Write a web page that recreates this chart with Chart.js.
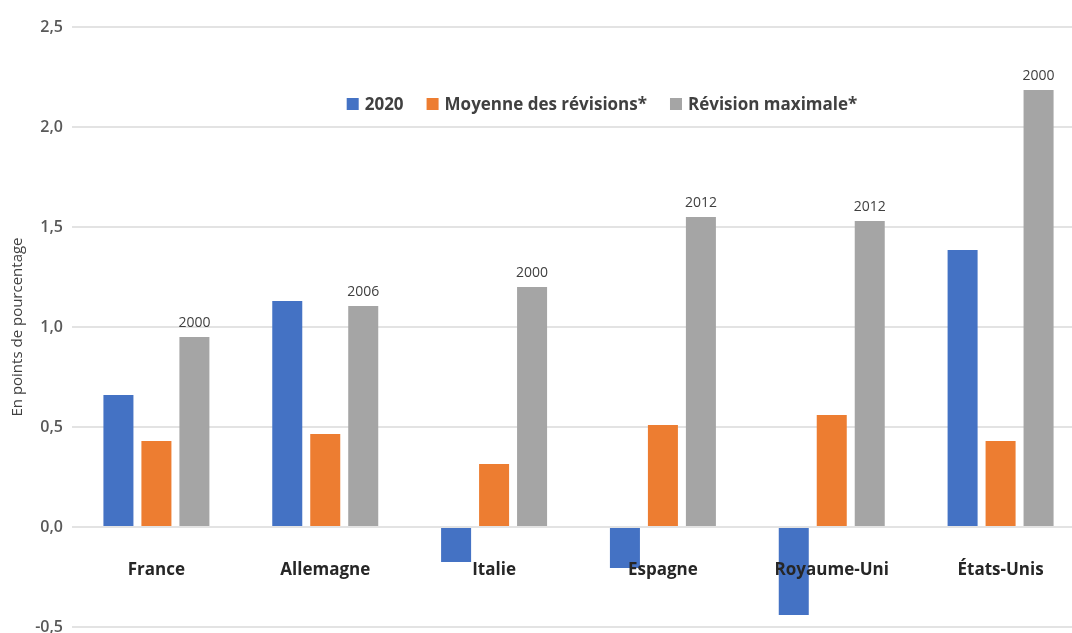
<!DOCTYPE html>
<html>
<head>
<meta charset="utf-8">
<script src="https://cdn.jsdelivr.net/npm/chart.js@4"></script>
<style>
  html, body { margin: 0; padding: 0; background: #fff; overflow: hidden; }
  #wrap { width: 1085px; height: 633px; }
</style>
</head>
<body>
<div id="wrap"><canvas id="revChart"></canvas></div>
<script>
const countries = ['France', 'Allemagne', 'Italie', 'Espagne', 'Royaume-Uni', 'États-Unis'];
const rev2020 = [0.66, 1.13, -0.175, -0.205, -0.44, 1.385];
const revMoyenne = [0.43, 0.465, 0.315, 0.51, 0.56, 0.43];
const revMax = [0.95, 1.105, 1.2, 1.55, 1.53, 2.185];
const revMaxYears = ['2000', '2006', '2000', '2012', '2012', '2000'];

const FONT = '"Open Sans", "Liberation Sans", sans-serif';
const TXT = '#404040';

// libellés des années au-dessus des barres grises
const yearLabels = {
  id: 'yearLabels',
  afterDatasetsDraw(chart) {
    const ctx = chart.ctx;
    const meta = chart.getDatasetMeta(2);
    ctx.save();
    ctx.font = '14px ' + FONT;
    ctx.fillStyle = TXT;
    ctx.textAlign = 'center';
    ctx.textBaseline = 'bottom';
    meta.data.forEach((bar, i) => {
      ctx.fillText(revMaxYears[i], bar.x, bar.y - 7);
    });
    ctx.restore();
  }
};

// légende dessinée dans la zone du graphique
const innerLegend = {
  id: 'innerLegend',
  afterDraw(chart) {
    const ctx = chart.ctx;
    const ds = chart.data.datasets;
    const box = 12, gapText = 6, gapItem = 23;
    ctx.save();
    ctx.font = '700 17px ' + FONT;
    const widths = ds.map(d => box + gapText + ctx.measureText(d.label).width);
    const total = widths.reduce((a, b) => a + b, 0) + gapItem * (ds.length - 1);
    let x = 602 - total / 2;
    const y = 104;
    ds.forEach((d, i) => {
      ctx.fillStyle = d.backgroundColor;
      ctx.fillRect(x, y - box / 2, box, box);
      ctx.fillStyle = TXT;
      ctx.textAlign = 'left';
      ctx.textBaseline = 'middle';
      ctx.fillText(d.label, x + box + gapText, y + 1);
      x += widths[i] + gapItem;
    });
    ctx.restore();
  }
};

new Chart(document.getElementById('revChart'), {
  type: 'bar',
  data: {
    labels: countries,
    datasets: [
      { label: '2020', data: rev2020, backgroundColor: '#4472C4' },
      { label: 'Moyenne des révisions*', data: revMoyenne, backgroundColor: '#ED7D31' },
      { label: 'Révision maximale*', data: revMax, backgroundColor: '#A5A5A5' }
    ]
  },
  options: {
    responsive: true,
    maintainAspectRatio: false,
    animation: false,
    layout: { padding: { top: 27, right: 0, bottom: 6, left: 0 } },
    datasets: { bar: { categoryPercentage: 0.675, barPercentage: 0.79 } },
    plugins: {
      legend: { display: false },
      tooltip: { enabled: false }
    },
    scales: {
      x: {
        position: { y: 0 },
        grid: { display: false },
        border: { display: false },
        ticks: {
          z: 1,
          padding: 25,
          color: '#262626',
          font: { family: FONT, size: 17, weight: '700' }
        }
      },
      y: {
        min: -0.5,
        max: 2.5,
        ticks: {
          stepSize: 0.5,
          padding: 9,
          color: '#595959',
          font: { family: FONT, size: 16, weight: '600' },
          callback: v => v.toFixed(1).replace('.', ',')
        },
        grid: { color: '#e3e3e3', lineWidth: 2, drawTicks: false },
        border: { display: false },
        title: {
          display: true,
          text: 'En points de pourcentage',
          color: TXT,
          font: { family: FONT, size: 15 },
          padding: { top: 9, bottom: 0 }
        },
        afterFit(scale) {
          scale.width = 72;
          scale.paddingBottom = 0;
        }
      }
    }
  },
  plugins: [yearLabels, innerLegend]
});
</script>
</body>
</html>
